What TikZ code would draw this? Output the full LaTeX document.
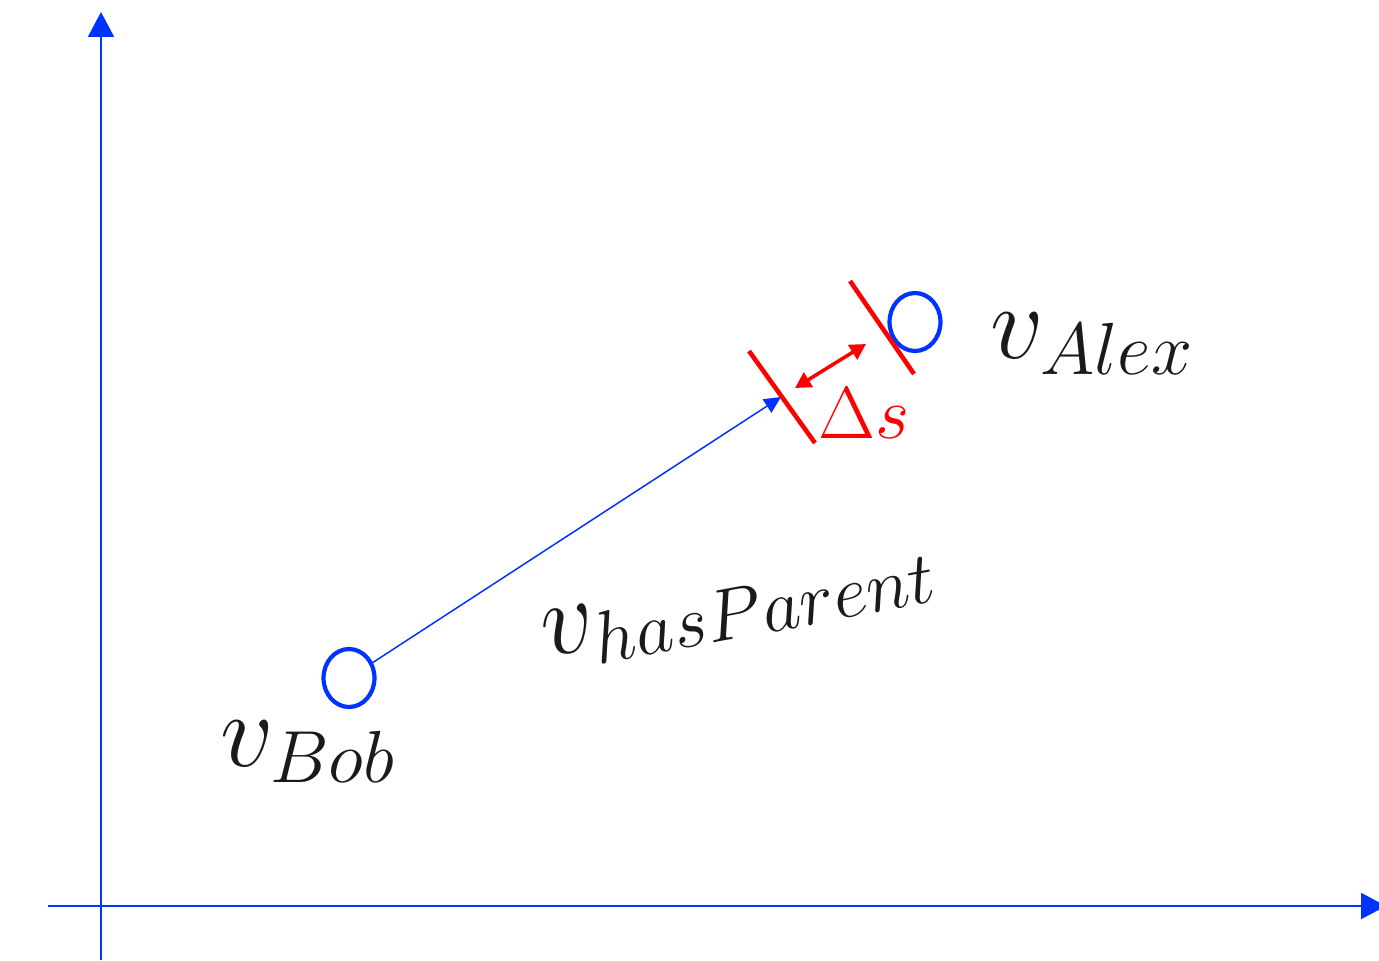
\RequirePackage{fix-cm}
\documentclass[tikz,border=0pt]{standalone}
\usetikzlibrary{
    arrows.meta,
    shapes.geometric,
    positioning
}
\usepackage{xcolor}
\usepackage{amsmath}
\definecolor{axisblue}{RGB}{0,51,255}
\definecolor{inkblack}{RGB}{26,26,26}
\tikzstyle{axisline} = [
    -{Triangle[length=14.2pt,width=14.8pt]},
    line width=1.1pt,
    draw=axisblue
]
\tikzstyle{entity} = [
    ellipse,
    draw=axisblue,
    line width=2.4pt,
    minimum width=29pt,
    minimum height=33pt,
    inner sep=0pt
]
\tikzstyle{relation} = [
    -{Triangle[length=9.5pt,width=9pt]},
    line width=0.85pt,
    draw=axisblue
]
\tikzstyle{bound} = [
    draw=red,
    line width=2.6pt
]
\tikzstyle{gapline} = [
    {Triangle[length=9pt,width=9.5pt]}-{Triangle[length=9pt,width=9.5pt]},
    line width=2pt,
    draw=red
]
\tikzstyle{vecname} = [
    inner sep=0pt,
    text=inkblack,
    font=\fontsize{60}{72}\selectfont
]

\begin{document}
\begin{tikzpicture}[x=0.02cm, y=-0.02cm]
        \useasboundingbox (0,0) rectangle (1379,960);

        % Axes
        \coordinate (xstart) at (48,906);
        \coordinate (xend) at (1386,906);
        \coordinate (ystart) at (101,960);
        \coordinate (yend) at (101,12);
        \draw[axisline] (xstart) -- (xend);
        \draw[axisline] (ystart) -- (yend);

        % Entities
        \node[entity] (bob) at (349,678) {};
        \node[entity] (alex) at (915,322) {};

        % Translated head
        \coordinate (head) at (781,397);
        \draw[relation] (bob) -- (head);

        % Tolerance marks
        \coordinate (m1a) at (749,351);
        \coordinate (m1b) at (815,443);
        \coordinate (m2a) at (850,281);
        \coordinate (m2b) at (914,374);
        \draw[bound] (m1a) -- (m1b);
        \draw[bound] (m2a) -- (m2b);
        \coordinate (g1) at (795,388);
        \coordinate (g2) at (866,344);
        \draw[gapline] (g1) -- (g2);

        % Labels
        \node[vecname] (bobname) at (308,752) {$v_{Bob}$};
        \node[vecname] (alexname) at (1092,344) {$v_{Alex}$};
        \node[vecname, rotate=10.5] (relname) at (739,607) {$v_{hasParent}$};
        \node[inner sep=0pt, text=red, font=\fontsize{42}{50}\selectfont] (delta) at (864,413) {$\Delta s$};
    \end{tikzpicture}
\end{document}
